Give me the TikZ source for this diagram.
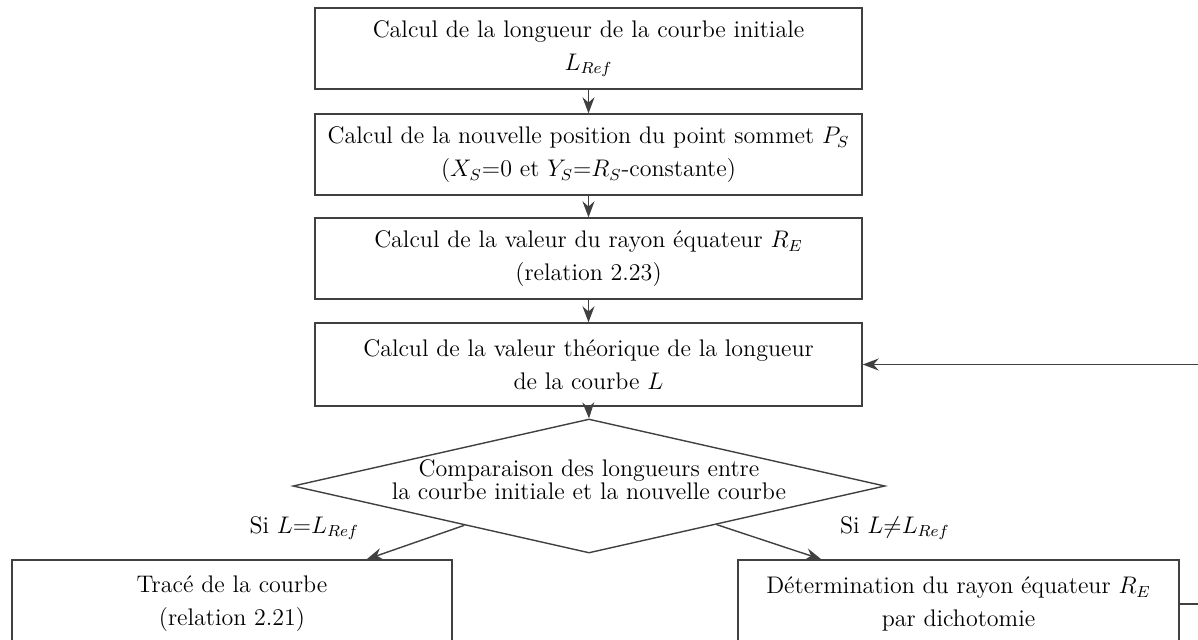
\documentclass[tikz,border=0pt]{standalone}
\usepackage{fontspec}
\usetikzlibrary{shapes.geometric,arrows.meta,calc}
\begin{document}
\begin{tikzpicture}[x=0.5pt,y=-0.5pt,
  every node/.style={font=\fontsize{12}{16.5}\selectfont, text=black},
  procbox/.style={draw=black!75, line width=0.7pt, rectangle, align=center,
    minimum width=273.5pt, minimum height=40.5pt, inner sep=0pt},
  decbox/.style={draw=black!75, line width=0.7pt, diamond, shape aspect=4.4,
    minimum width=296pt, minimum height=67pt, inner sep=0pt},
  dectext/.style={align=center, inner sep=0pt, font=\fontsize{12}{11.5}\selectfont},
  arr/.style={draw=black!75, line width=0.7pt, -{Stealth[length=8pt,width=6pt]}},
  conn/.style={draw=black!75, line width=0.7pt}]
\useasboundingbox (0,0) rectangle (1198,639);
\clip (0,0) rectangle (1198,639);

\node[procbox] (b1) at (588.5,48.5) {Calcul de la longueur de la courbe initiale\\ $L_{Ref}$};
\node[procbox] (b2) at (588.5,154.5) {Calcul de la nouvelle position du point sommet $P_S$\\ ($X_S$=0 et $Y_S$=$R_S$-constante)};
\node[procbox] (b3) at (588.5,258.5) {Calcul de la valeur du rayon équateur $R_E$\\ (relation 2.23)};
\node[procbox, minimum height=41.5pt] (b4) at (588.5,364.5) {Calcul de la valeur théorique de la longueur\\ de la courbe $L$};
\node[decbox] (d) at (589,486) {};
\node[dectext] (dt) at (589,480) {Comparaison des longueurs entre\\ la courbe initiale et la nouvelle courbe};
\node[procbox, minimum width=220pt, minimum height=44pt] (bl) at (232,604) {Tracé de la courbe\\ (relation 2.21)};
\node[procbox, minimum width=220.5pt, minimum height=44pt] (br) at (958.5,604) {Détermination du rayon équateur $R_E$\\ par dichotomie};

\node[anchor=base east] (lab1) at (366,533) {Si $L$=$L_{Ref}$};
\node[anchor=base west] (lab2) at (833,533) {Si $L$$\neq$$L_{Ref}$};

\draw[arr] (b1.south) -- (b2.north);
\draw[arr] (b2.south) -- (b3.north);
\draw[arr] (b3.south) -- (b4.north);
\draw[arr] (b4.south) -- (d.north);
\draw[arr] ($(d.west)!0.58!(d.south)$) -- ($(bl.north west)!0.805!(bl.north east)$);
\draw[arr] ($(d.east)!0.57!(d.south)$) -- ($(br.north west)!0.19!(br.north east)$);
\draw[arr] (br.east) -- ++(40,0) |- (b4.east);
\end{tikzpicture}
\end{document}
